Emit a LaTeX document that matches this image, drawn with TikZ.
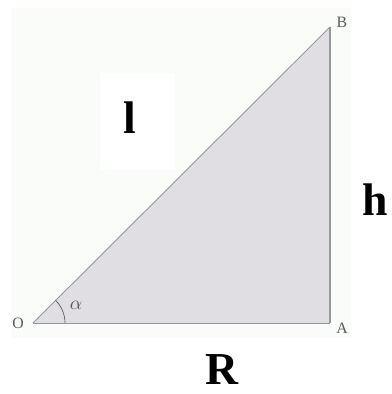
\documentclass[tikz,border=0pt]{standalone}
\usepackage{fontspec}
\setmainfont{Liberation Serif}
\definecolor{paper}{RGB}{250,252,250}
\definecolor{wedge}{RGB}{224,222,226}
\definecolor{edge}{RGB}{150,150,150}
\definecolor{pencil}{RGB}{90,90,90}
\tikzset{
  corner/.style={text=pencil, font=\fontsize{9}{10}\selectfont, inner sep=0pt},
  size/.style={font=\fontsize{26}{30}\selectfont\bfseries, inner sep=0pt}
}
\begin{document}
\begin{tikzpicture}[x=0.02cm, y=0.02cm]
  \useasboundingbox (0,0) rectangle (391,394);
  % scanned sheet and the white patch behind l
  \fill[paper] (12,56) rectangle (351,386);
  \fill[white] (100,224) rectangle (175,321);

  % Corners of the triangle
  \coordinate (O) at (33,71);
  \coordinate (A) at (330,71);
  \coordinate (B) at (330,367);

  % Shaded triangle
  \fill[wedge] (O) -- (A) -- (B) -- cycle;
  \draw[edge, line width=0.5pt] (O) -- (A);
  \draw[edge, line width=0.5pt] (O) -- (B);
  \draw[edge, line width=0.8pt] (A) -- (B);

  % Angle at O
  \draw[pencil, line width=0.4pt] (O) ++(32,0) arc[start angle=0, end angle=45, radius=0.64cm];
  \node[corner, font=\fontsize{11}{12}\selectfont] (alpha) at (76,89) {$\alpha$};

  % Corner letters
  \node[corner] (lO) at (18,71) {O};
  \node[corner] (lA) at (342,66) {A};
  \node[corner] (lB) at (342,372) {B};

  % Lengths
  \node[size] (l) at (130,276) {l};
  \node[size] (h) at (375,194) {h};
  \node[size] (R) at (222,24) {R};
\end{tikzpicture}
\end{document}
